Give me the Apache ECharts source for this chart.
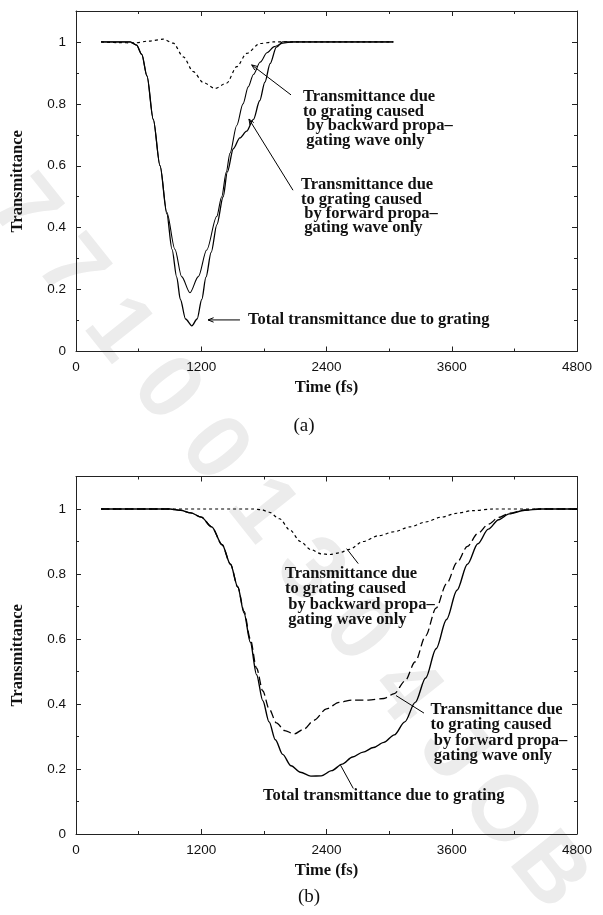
<!DOCTYPE html>
<html>
<head>
<meta charset="utf-8">
<title>Transmittance due to grating</title>
<script src="https://cdn.jsdelivr.net/npm/echarts@6/dist/echarts.min.js"></script>
<style>
  html, body { margin: 0; padding: 0; background: #fff; }
  #chart { width: 603px; height: 915px; }
</style>
</head>
<body>
<div id="chart"></div>
<script>
// ---- Panel (a): time (fs) / transmittance samples ----
const aTotalT = [240, 520, 580, 630, 680, 740, 805, 870, 920, 965, 1000, 1050, 1110, 1160, 1205, 1245, 1295, 1350, 1410, 1450, 1507, 1570, 1635, 1700, 1760, 1810, 1860, 1920, 1980, 3040];
const aTotalV = [1, 1, 0.99, 0.96, 0.89, 0.75, 0.6, 0.445, 0.33, 0.24, 0.168, 0.105, 0.083, 0.105, 0.168, 0.24, 0.32, 0.41, 0.5, 0.58, 0.655, 0.69, 0.712, 0.75, 0.81, 0.87, 0.93, 0.983, 1, 1];

const aForwardT = [240, 520, 580, 630, 680, 740, 805, 870, 948, 1012, 1092, 1172, 1252, 1348, 1396, 1440, 1475, 1540, 1600, 1650, 1700, 1765, 1830, 1900, 1980, 2080, 3040];
const aForwardV = [1, 1, 0.99, 0.96, 0.89, 0.75, 0.6, 0.45, 0.33, 0.242, 0.19, 0.242, 0.328, 0.436, 0.5, 0.58, 0.64, 0.73, 0.8, 0.855, 0.895, 0.935, 0.965, 0.985, 0.996, 1, 1];

const aBackwardT = [240, 400, 560, 700, 837, 932, 1028, 1124, 1220, 1332, 1444, 1540, 1635, 1763, 1890, 3040];
const aBackwardV = [1, 0.998, 0.997, 1.003, 1.009, 0.996, 0.952, 0.904, 0.869, 0.85, 0.867, 0.92, 0.963, 0.995, 1, 1];

// ---- Panel (b): time (fs) / transmittance samples ----
const bTotalT = [240, 900, 1000, 1100, 1200, 1300, 1400, 1480, 1550, 1610, 1670, 1730, 1790, 1850, 1910, 1980, 2060, 2150, 2250, 2350, 2450, 2550, 2650, 2750, 2850, 2950, 3050, 3150, 3250, 3350, 3450, 3550, 3650, 3750, 3850, 3950, 4050, 4150, 4300, 4450, 4800];
const bTotalV = [1, 1, 0.996, 0.988, 0.975, 0.945, 0.89, 0.83, 0.76, 0.68, 0.59, 0.49, 0.41, 0.345, 0.29, 0.245, 0.21, 0.19, 0.178, 0.179, 0.195, 0.215, 0.237, 0.252, 0.266, 0.282, 0.305, 0.345, 0.405, 0.48, 0.57, 0.66, 0.75, 0.83, 0.893, 0.938, 0.967, 0.985, 0.996, 1, 1];

const bForwardT = [240, 900, 1000, 1100, 1200, 1300, 1400, 1480, 1550, 1610, 1670, 1730, 1790, 1850, 1920, 2000, 2090, 2180, 2280, 2400, 2520, 2650, 2800, 2950, 3050, 3150, 3250, 3350, 3450, 3550, 3650, 3750, 3850, 3950, 4050, 4150, 4300, 4450, 4800];
const bForwardV = [1, 1, 0.996, 0.988, 0.975, 0.945, 0.89, 0.83, 0.76, 0.685, 0.6, 0.51, 0.44, 0.385, 0.342, 0.318, 0.308, 0.322, 0.35, 0.385, 0.405, 0.412, 0.412, 0.417, 0.432, 0.47, 0.53, 0.61, 0.695, 0.77, 0.835, 0.885, 0.925, 0.953, 0.974, 0.987, 0.997, 1, 1];

const bBackwardT = [240, 1700, 1780, 1850, 1950, 2050, 2150, 2250, 2350, 2430, 2520, 2620, 2750, 2900, 3050, 3200, 3350, 3500, 3650, 3800, 4000, 4800];
const bBackwardV = [1, 1, 0.998, 0.99, 0.97, 0.935, 0.9, 0.875, 0.862, 0.86, 0.865, 0.876, 0.9, 0.918, 0.93, 0.945, 0.96, 0.975, 0.987, 0.995, 1, 1];

// ---- Axis ticks ----
const timeTicks = { min: 0, max: 4800, step: 1200 };
const transTicks = { min: 0, max: 1.1, step: 0.2 };

// ---- Annotation text ----
const labelBackward = ['Transmittance due', 'to grating caused', '\u2009by backward propa\u2013', '\u2009gating wave only'];
const labelForward = ['Transmittance due', 'to grating caused', '\u2009by forward propa\u2013', '\u2009gating wave only'];
const labelTotal = 'Total transmittance due to grating';
const watermarkText = '771001304JOB';

const SERIF = '"Liberation Serif", "Times New Roman", Times, serif';
const SANS = '"Liberation Sans", Arial, Helvetica, sans-serif';
const INK = '#111';
const FRAME = '#222';
const NOTE_FONT = 'bold 16.5px ' + SERIF;

const pairs = (t, v) => t.map((x, i) => [x, v[i]]);

const chart = echarts.init(document.getElementById('chart'), null, { renderer: 'canvas' });

const tickCommon = {
  axisLine: { show: true, onZero: false, lineStyle: { color: FRAME, width: 1 } },
  axisTick: { show: true, inside: true, length: 5, lineStyle: { color: FRAME, width: 1 } },
  minorTick: { show: true, splitNumber: 2, length: 3, lineStyle: { color: FRAME, width: 1 } },
  splitLine: { show: false },
  minorSplitLine: { show: false }
};

function timeAxes(grid) {
  const base = Object.assign({ gridIndex: grid, type: 'value', min: timeTicks.min, max: timeTicks.max, interval: timeTicks.step }, tickCommon);
  return [
    Object.assign({}, base, {
      position: 'bottom',
      name: 'Time (fs)', nameLocation: 'middle', nameGap: 28,
      nameTextStyle: { fontFamily: SERIF, fontWeight: 'bold', fontSize: 16.5, color: INK },
      axisLabel: { color: INK, fontFamily: SANS, fontSize: 13.5, margin: 9, formatter: v => String(Math.round(v)) }
    }),
    Object.assign({}, base, { position: 'top', axisLabel: { show: false } })
  ];
}

function transAxes(grid) {
  const base = Object.assign({ gridIndex: grid, type: 'value', min: transTicks.min, max: transTicks.max, interval: transTicks.step }, tickCommon);
  return [
    Object.assign({}, base, {
      position: 'left',
      name: 'Transmittance', nameLocation: 'middle', nameGap: 50, nameRotate: 90,
      nameTextStyle: { fontFamily: SERIF, fontWeight: 'bold', fontSize: 16.5, color: INK },
      axisLabel: {
        color: INK, fontFamily: SANS, fontSize: 13.5, margin: 10,
        formatter: v => (v > 1.05 ? '' : String(+v.toFixed(1)))
      }
    }),
    Object.assign({}, base, { position: 'right', axisLabel: { show: false } })
  ];
}

function curve(axis, data, dash, width) {
  return {
    type: 'line', xAxisIndex: axis, yAxisIndex: axis, data: data,
    symbol: 'none', smooth: 0.3, smoothMonotone: 'x', silent: true,
    lineStyle: { color: '#000', width: width, type: dash }
  };
}

chart.setOption({
  animation: false,
  backgroundColor: '#fff',
  grid: [
    { left: 76, right: 26, top: 11, height: 340.5 },
    { left: 76, right: 26, top: 476.5, height: 357.5 }
  ],
  xAxis: timeAxes(0).concat(timeAxes(1)),
  yAxis: transAxes(0).concat(transAxes(1)),
  series: [
    curve(0, pairs(aTotalT, aTotalV), 'solid', 1.3),
    curve(0, pairs(aForwardT, aForwardV), 'solid', 1.1),
    curve(0, pairs(aBackwardT, aBackwardV), [3, 3], 1.2),
    curve(2, pairs(bTotalT, bTotalV), 'solid', 1.4),
    curve(2, pairs(bForwardT, bForwardV), [8, 4], 1.3),
    curve(2, pairs(bBackwardT, bBackwardV), [3, 3], 1.2)
  ]
});

// ---- Annotations: leader lines anchored in data space ----
const toPx = (panel, t, v) => chart.convertToPixel({ xAxisIndex: panel * 2, yAxisIndex: panel * 2 }, [t, v]);

function leader(panel, tip, tail, withHead) {
  const a = toPx(panel, tip[0], tip[1]);
  const b = toPx(panel, tail[0], tail[1]);
  const els = [{
    type: 'line', z: 20, silent: true,
    shape: { x1: b[0], y1: b[1], x2: a[0], y2: a[1] },
    style: { stroke: '#000', lineWidth: 1 }
  }];
  if (withHead) {
    const ang = Math.atan2(b[1] - a[1], b[0] - a[0]);
    const len = 6, spread = 0.38;
    els.push({
      type: 'polyline', z: 20, silent: true,
      shape: { points: [
        [a[0] + len * Math.cos(ang + spread), a[1] + len * Math.sin(ang + spread)],
        [a[0], a[1]],
        [a[0] + len * Math.cos(ang - spread), a[1] + len * Math.sin(ang - spread)]
      ] },
      style: { stroke: '#000', lineWidth: 1, fill: null }
    });
  }
  return els;
}

function note(x, y, lines, lineHeight) {
  return {
    type: 'text', x: x, y: y, z: 20, silent: true,
    style: {
      text: Array.isArray(lines) ? lines.join('\n') : lines,
      font: NOTE_FONT, fill: INK, lineHeight: lineHeight,
      textAlign: 'left', textVerticalAlign: 'top'
    }
  };
}

const graphics = [];

// faint diagonal stamp running across both panels
for (let i = 0; i < watermarkText.length; i++) {
  graphics.push({
    type: 'text', x: 22 + i * 47.8, y: 210 + i * 60.2, z: 0, silent: true,
    rotation: -0.9,
    style: {
      text: watermarkText[i], font: 'bold 92px ' + SANS, fill: '#ececec',
      textAlign: 'center', textVerticalAlign: 'middle'
    }
  });
}

// panel (a)
graphics.push(...leader(0, [1683, 0.926], [2060, 0.829], true));
graphics.push(...leader(0, [1657, 0.751], [2079, 0.521], true));
graphics.push(...leader(0, [1265, 0.102], [1571, 0.102], true));
graphics.push(note(303, 89.5, labelBackward, 14.5));
graphics.push(note(301, 178, labelForward, 14.2));
graphics.push(note(248, 312, labelTotal, 15));

// panel (b)
graphics.push(...leader(1, [2593, 0.878], [2704, 0.832], false));
graphics.push(...leader(1, [3066, 0.426], [3334, 0.372], false));
graphics.push(...leader(1, [2534, 0.212], [2657, 0.14], false));
graphics.push(note(285, 565.5, labelBackward, 15.5));
graphics.push(note(430.5, 701.5, labelForward, 15.6));
graphics.push(note(263, 788.5, labelTotal, 15));

// panel captions
graphics.push({
  type: 'text', x: 304, y: 426, z: 20, silent: true,
  style: { text: '(a)', font: '19px ' + SERIF, fill: INK, textAlign: 'center', textVerticalAlign: 'middle' }
});
graphics.push({
  type: 'text', x: 309, y: 897, z: 20, silent: true,
  style: { text: '(b)', font: '19px ' + SERIF, fill: INK, textAlign: 'center', textVerticalAlign: 'middle' }
});

chart.setOption({ graphic: { elements: graphics } });
</script>
</body>
</html>
